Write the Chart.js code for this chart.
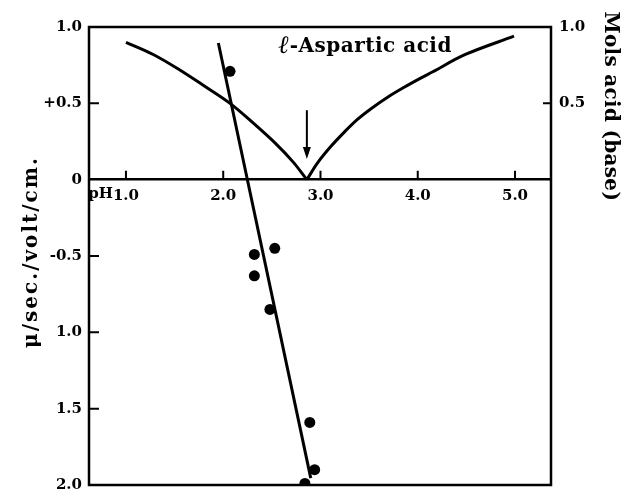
<!DOCTYPE html>
<html><head><meta charset="utf-8">
<script src="https://cdn.jsdelivr.net/npm/chart.js@4/dist/chart.umd.min.js"></script>
<style>html,body{margin:0;padding:0;background:#fff}#wrap{width:624px;height:502px}</style>
</head><body><div id="wrap"><canvas id="c" width="624" height="502"></canvas></div>
<script>
// ---- data ----
const curveLeftPH = [1.0, 1.28, 1.55, 1.79, 2.07, 2.31, 2.55, 2.72, 2.86];
const curveLeftMols = [0.90, 0.82, 0.72, 0.62, 0.50, 0.37, 0.23, 0.115, 0];
const curveRightPH = [2.86, 2.97, 3.11, 3.25, 3.38, 3.52, 3.69, 3.86, 4.03, 4.15, 4.49, 4.99];
const curveRightMols = [0, 0.11, 0.22, 0.315, 0.395, 0.465, 0.54, 0.605, 0.665, 0.705, 0.82, 0.94];
const fitLinePH = [1.95, 2.90];
const fitLineMobility = [0.895, -1.955];
const pointPH = [2.07, 2.32, 2.53, 2.32, 2.48, 2.89, 2.94, 2.84];
const pointMobility = [0.71, -0.49, -0.45, -0.63, -0.85, -1.59, -1.90, -1.99];
const xTickValues = [1, 2, 3, 4, 5];
const xTickLabels = ['1.0', '2.0', '3.0', '4.0', '5.0'];
const xLabelPrefix = 'pH';
const leftTickValues = [1, 0.5, 0, -0.5, -1, -1.5, -2];
const leftTickLabels = ['1.0', '+0.5', '0', '-0.5', '1.0', '1.5', '2.0'];
const rightTickValues = [0.5, 1];
const rightTickLabels = ['0.5', '1.0'];
const arrowPH = [2.86, 2.86];
const arrowValue = [0.455, 0.135];
const leftTitle = 'μ/sec./volt/cm.';
const rightTitle = 'Mols acid (base)';
const annotationPrefix = 'ℓ';
const annotationText = '-Aspartic acid';
const annotationAt = [3.46, 0.87];

const FONT = '"DejaVu Serif", "Liberation Serif", serif';
const INK = '#000';
const toXY = (xs, ys) => xs.map((x, i) => ({ x: x, y: ys[i] }));

const decor = {
  id: 'decor',
  afterDraw(chart) {
    const { ctx, chartArea: a, scales } = chart;
    const xs = scales.x, ys = scales.y;
    ctx.save();
    ctx.strokeStyle = INK; ctx.fillStyle = INK;
    // frame
    ctx.lineWidth = 2.5;
    ctx.strokeRect(a.left, a.top, a.right - a.left, a.bottom - a.top);
    // tick marks
    const y0 = ys.getPixelForValue(0);
    ctx.lineWidth = 2;
    ctx.beginPath();
    xTickValues.forEach(v => { const px = xs.getPixelForValue(v); ctx.moveTo(px, y0); ctx.lineTo(px, y0 - 9); });
    leftTickValues.forEach(v => { if (v > -2 && v < 1 && v !== 0) { const py = ys.getPixelForValue(v); ctx.moveTo(a.left, py); ctx.lineTo(a.left + 10, py); } });
    rightTickValues.forEach(v => { const py = ys.getPixelForValue(v); ctx.moveTo(a.right, py); ctx.lineTo(a.right - 8, py); });
    ctx.stroke();
    // pH prefix before first x label
    ctx.font = 'bold 15px ' + FONT;
    const firstW = ctx.measureText(xTickLabels[0]).width;
    ctx.textAlign = 'right'; ctx.textBaseline = 'top';
    ctx.fillText(xLabelPrefix, xs.getPixelForValue(xTickValues[0]) - firstW / 2, y0 + 7);
    // arrow
    const ax = xs.getPixelForValue(arrowPH[0]);
    const ay1 = ys.getPixelForValue(arrowValue[0]), ay2 = ys.getPixelForValue(arrowValue[1]);
    ctx.lineWidth = 2;
    ctx.beginPath(); ctx.moveTo(ax, ay1); ctx.lineTo(ax, ay2 - 8); ctx.stroke();
    ctx.beginPath(); ctx.moveTo(ax - 4, ay2 - 12); ctx.lineTo(ax + 4, ay2 - 12); ctx.lineTo(ax, ay2); ctx.closePath(); ctx.fill();
    // annotation
    ctx.letterSpacing = '0.5px';
    ctx.font = 'bold 20px ' + FONT;
    const restW = ctx.measureText(annotationText).width;
    ctx.font = 'bold italic 25px "DejaVu Serif", serif';
    const preW = ctx.measureText(annotationPrefix).width;
    const cx = xs.getPixelForValue(annotationAt[0]), cy = ys.getPixelForValue(annotationAt[1]);
    const startX = cx - (restW + preW) / 2;
    ctx.textAlign = 'left'; ctx.textBaseline = 'middle';
    ctx.fillText(annotationPrefix, startX, cy);
    ctx.font = 'bold 20px ' + FONT;
    ctx.fillText(annotationText, startX + preW, cy);
    // axis titles
    ctx.textAlign = 'center';
    ctx.font = 'bold 20px ' + FONT;
    ctx.letterSpacing = '2px';
    ctx.save();
    ctx.translate(32, (a.top + a.bottom) / 2 - 4);
    ctx.rotate(-Math.PI / 2);
    ctx.fillText(leftTitle, 0, 0);
    ctx.restore();
    ctx.letterSpacing = '0.3px';
    ctx.save();
    ctx.translate(610, ys.getPixelForValue(0.5) + 3);
    ctx.rotate(Math.PI / 2);
    ctx.fillText(rightTitle, 0, 0);
    ctx.restore();
    ctx.letterSpacing = '0px';
    ctx.restore();
  }
};

const tickFont = { family: FONT, size: 15, weight: 'bold' };

new Chart(document.getElementById('c'), {
  type: 'scatter',
  data: {
    datasets: [
      { data: toXY(curveLeftPH, curveLeftMols), showLine: true, borderColor: INK, borderWidth: 3, pointRadius: 0, tension: 0.35 },
      { data: toXY(curveRightPH, curveRightMols), showLine: true, borderColor: INK, borderWidth: 3, pointRadius: 0, tension: 0.35 },
      { data: toXY(fitLinePH, fitLineMobility), showLine: true, borderColor: INK, borderWidth: 3, pointRadius: 0 },
      { data: toXY(pointPH, pointMobility), showLine: false, pointRadius: 5.5, pointBackgroundColor: INK, pointBorderWidth: 0, borderColor: INK }
    ]
  },
  options: {
    responsive: false,
    animation: false,
    events: [],
    layout: { padding: { left: 0, right: 0, top: 27, bottom: 7 } },
    plugins: { legend: { display: false }, tooltip: { enabled: false } },
    scales: {
      x: {
        type: 'linear', position: { y: 0 }, min: 0.62, max: 5.37,
        afterBuildTicks: s => { s.ticks = xTickValues.map(v => ({ value: v })); },
        grid: { display: false, drawTicks: false },
        border: { display: true, color: INK, width: 2.5 },
        ticks: { padding: 7, color: INK, font: tickFont, maxRotation: 0, autoSkip: false,
          callback: (v, i) => xTickLabels[i] }
      },
      y: {
        type: 'linear', position: 'left', min: -2, max: 1,
        afterBuildTicks: s => { s.ticks = leftTickValues.map(v => ({ value: v })); },
        afterFit: s => { s.width = 89; },
        grid: { display: false, drawTicks: false },
        border: { display: false },
        ticks: { padding: 7, color: INK, font: tickFont, autoSkip: false,
          callback: (v, i) => leftTickLabels[i] }
      },
      y2: {
        type: 'linear', position: 'right', min: -2, max: 1,
        afterBuildTicks: s => { s.ticks = rightTickValues.map(v => ({ value: v })); },
        afterFit: s => { s.width = 73; },
        grid: { display: false, drawTicks: false },
        border: { display: false },
        ticks: { padding: 8, color: INK, font: tickFont, autoSkip: false,
          callback: (v, i) => rightTickLabels[i] }
      }
    }
  },
  plugins: [decor]
});
</script></body></html>
